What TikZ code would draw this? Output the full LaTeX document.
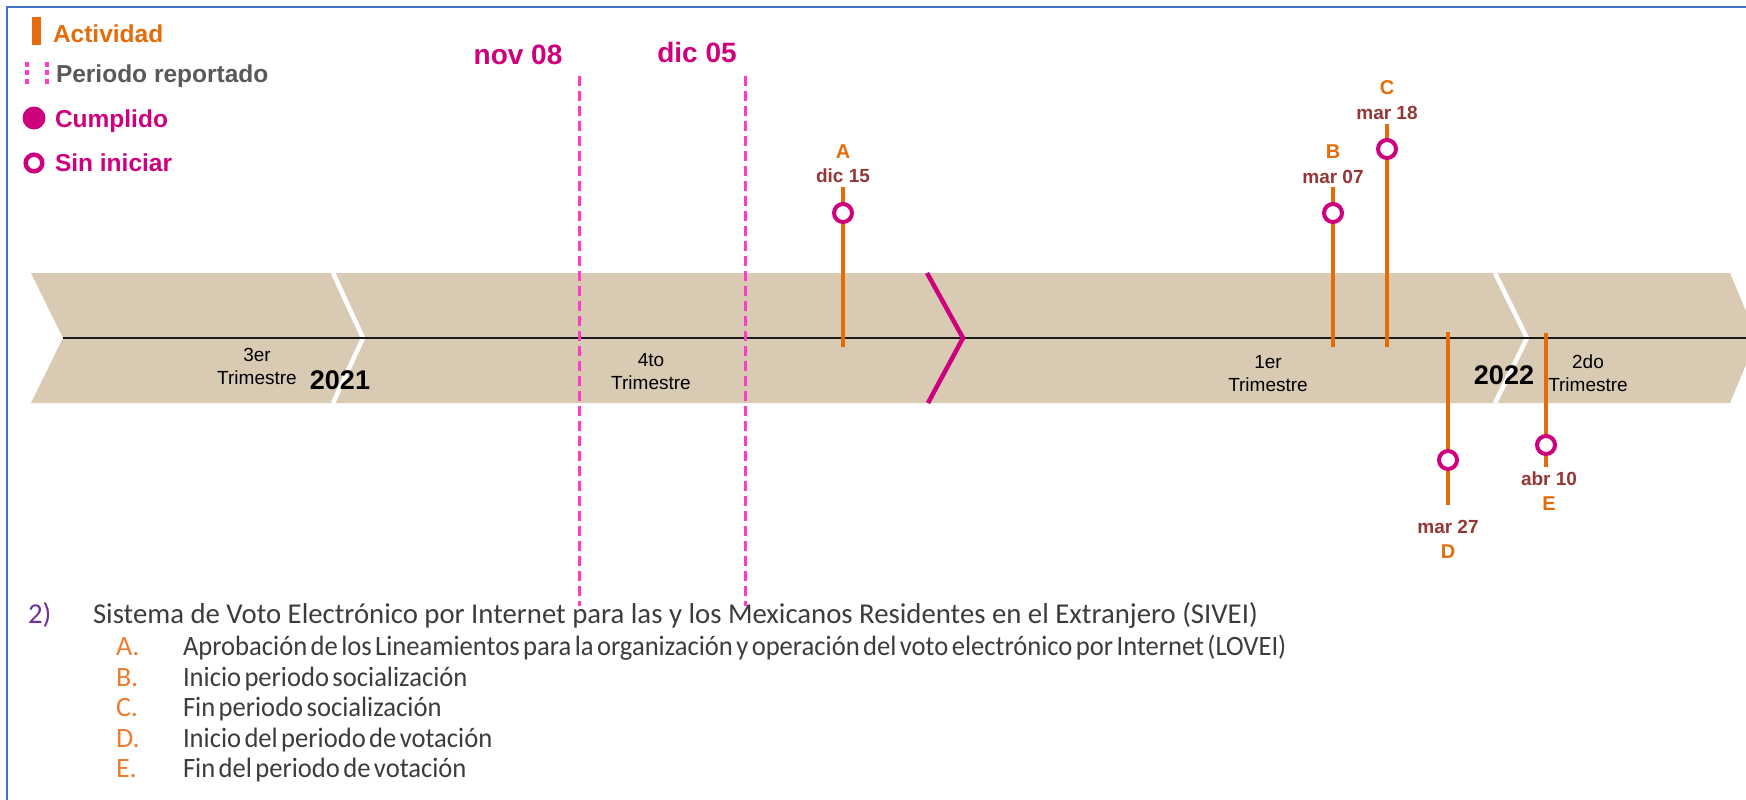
\documentclass[tikz,border=0pt]{standalone}
\usepackage{fontspec}
\setmainfont{Liberation Sans}
\newfontfamily\calfont{Carlito}
\newfontfamily\calcond[FakeStretch=0.95]{Carlito}
\newcommand\tightspace{\spaceskip=3.4pt plus 0.5pt\relax}
\definecolor{tanband}{RGB}{216,202,179}
\definecolor{orng}{RGB}{228,108,10}
\definecolor{orngl}{RGB}{237,125,49}
\definecolor{mag}{RGB}{206,0,126}
\definecolor{pnk}{RGB}{255,60,200}
\definecolor{datec}{RGB}{150,55,53}
\definecolor{gry}{RGB}{89,89,89}
\definecolor{bord}{RGB}{68,114,196}
\definecolor{purp}{RGB}{112,48,160}
\definecolor{txt}{RGB}{60,60,60}
\begin{document}
\begin{tikzpicture}[x=1pt,y=-1pt,
  every node/.style={inner sep=0pt, outer sep=0pt},
  evline/.style={orng, line width=4pt},
  ring/.style={circle, draw=mag, line width=4pt, fill=white, minimum size=18pt},
  letlab/.style={anchor=base, text=orng, font=\bfseries\fontsize{20}{24}\selectfont},
  datelab/.style={anchor=base, text=datec, font=\bfseries\fontsize{19}{23}\selectfont},
  tri/.style={anchor=base, font=\fontsize{19}{23}\selectfont},
  yr/.style={anchor=base, font=\bfseries\fontsize{27}{32}\selectfont},
  per/.style={pnk, line width=3pt, dash pattern=on 10pt off 5pt},
  perlab/.style={anchor=base, text=mag, font=\bfseries\fontsize{28}{32}\selectfont},
  leg/.style={anchor=base west, font=\bfseries\fontsize{24.5}{29}\selectfont},
  sepline/.style={white, line width=4.5pt},
  bottxt/.style={anchor=base west, text=txt, font=\calfont\fontsize{28.75}{34}\selectfont},
  itemtxt/.style={anchor=base west, text=txt, font=\calcond\fontsize{28}{34}\selectfont},
  itemlet/.style={anchor=base west, text=orngl, font=\calfont\fontsize{28}{34}\selectfont}
]
\useasboundingbox (0,0) rectangle (1746,800);
\clip (0,0) rectangle (1746,800);
\fill[white] (0,0) rectangle (1746,800);
% border
\draw[bord, line width=2.5pt] (7,800) -- (7,7) -- (1746,7);

% band
\fill[tanband] (31,273) -- (1730,273) -- (1757,338) -- (1730,403) -- (31,403) -- (63,338) -- cycle;
\draw[sepline] (333,273) -- (363,338) -- (333,403);
\draw[sepline] (1495,273) -- (1527,338) -- (1495,403);
\coordinate (lineL) at (63,338);
\coordinate (lineR) at (1746,338);
\draw[black!90, line width=2.2pt] (lineL) -- (lineR);
\draw[mag, line width=4.5pt] (927,273) -- (963,338) -- (928,403);

% quarter labels
\node[tri] (q3a) at (257,361) {3er};
\node[tri] (q3b) at (257,384) {Trimestre};
\node[yr] (y21) at (340,389) {2021};
\node[tri] (q4a) at (651,366) {4to};
\node[tri] (q4b) at (651,389) {Trimestre};
\node[tri] (q1a) at (1268,368) {1er};
\node[tri] (q1b) at (1268,391.5) {Trimestre};
\node[yr] (y22) at (1504,384) {2022};
\node[tri] (q2a) at (1588,368) {2do};
\node[tri] (q2b) at (1588,391.5) {Trimestre};

% reported period
\coordinate (p1t) at (579,76);
\coordinate (p1b) at (579,606);
\coordinate (p2t) at (745,76);
\coordinate (p2b) at (745,606);
\draw[per] (p1t) -- (p1b);
\draw[per] (p2t) -- (p2b);
\node[perlab] (nov) at (518,65) {nov 08};
\node[perlab] (dic) at (697,63) {dic 05};

% events
\coordinate (At) at (843,187);  \coordinate (Ab) at (843,347);
\coordinate (Bt) at (1333,187); \coordinate (Bb) at (1333,347);
\coordinate (Ct) at (1387,124); \coordinate (Cb) at (1387,347);
\coordinate (Dt) at (1448,332); \coordinate (Db) at (1448,505);
\coordinate (Et) at (1546,333); \coordinate (Eb) at (1546,467);
\draw[evline] (At) -- (Ab);
\draw[evline] (Bt) -- (Bb);
\draw[evline] (Ct) -- (Cb);
\draw[evline] (Dt) -- (Db);
\draw[evline] (Et) -- (Eb);
\node[ring] (Ac) at (843,213) {};
\node[ring] (Bc) at (1333,213) {};
\node[ring] (Cc) at (1387,149) {};
\node[ring] (Dc) at (1448,460) {};
\node[ring] (Ec) at (1546,445) {};
\node[letlab] (Al) at (843,158) {A};
\node[datelab] (Ad) at (843,182.5) {dic 15};
\node[letlab] (Bl) at (1333,158) {B};
\node[datelab] (Bd) at (1333,183) {mar 07};
\node[letlab] (Cl) at (1387,94) {C};
\node[datelab] (Cd) at (1387,119) {mar 18};
\node[datelab] (Dd) at (1448,533) {mar 27};
\node[letlab] (Dl) at (1448,558) {D};
\node[datelab] (Ed) at (1549,485) {abr 10};
\node[letlab] (El) at (1549,510) {E};

% legend
\fill[orng] (32,17) rectangle (41,45);
\node[leg, text=orng] (lg1) at (53,42.5) {Actividad};
\draw[pnk, line width=4pt, dash pattern=on 5pt off 3.5pt] (27,62) -- (27,86);
\draw[pnk, line width=4pt, dash pattern=on 5pt off 3.5pt] (47,62) -- (47,86);
\node[leg, text=gry] (lg2) at (56,83) {Periodo reportado};
\fill[mag] (34,118) circle (11.5);
\node[leg, text=mag] (lg3) at (55,127.5) {Cumplido};
\draw[mag, line width=4.5pt] (34,163) circle (8.3);
\node[leg, text=mag] (lg4) at (55,171.5) {Sin iniciar};

% bottom text
\node[anchor=base west, text=purp, font=\calfont\fontsize{28.75}{34}\selectfont] (n2) at (28,623.5) {2)};
\node[bottxt] (title) at (93,623.5) {Sistema de Voto Electrónico por Internet para las y los Mexicanos Residentes en el Extranjero (SIVEI)};
\node[itemlet] (iA) at (116,655) {A.};
\node[itemtxt] (tA) at (183,655) {\tightspace Aprobación de los Lineamientos para la organización y operación del voto electrónico por Internet (LOVEI)};
\node[itemlet] (iB) at (116,686) {B.};
\node[itemtxt] (tB) at (183,686) {\tightspace Inicio periodo socialización};
\node[itemlet] (iC) at (116,716.5) {C.};
\node[itemtxt] (tC) at (183,716.5) {\tightspace Fin periodo socialización};
\node[itemlet] (iD) at (116,747) {D.};
\node[itemtxt] (tD) at (183,747) {\tightspace Inicio del periodo de votación};
\node[itemlet] (iE) at (116,777.5) {E.};
\node[itemtxt] (tE) at (183,777.5) {\tightspace Fin del periodo de votación};
\end{tikzpicture}
\end{document}
